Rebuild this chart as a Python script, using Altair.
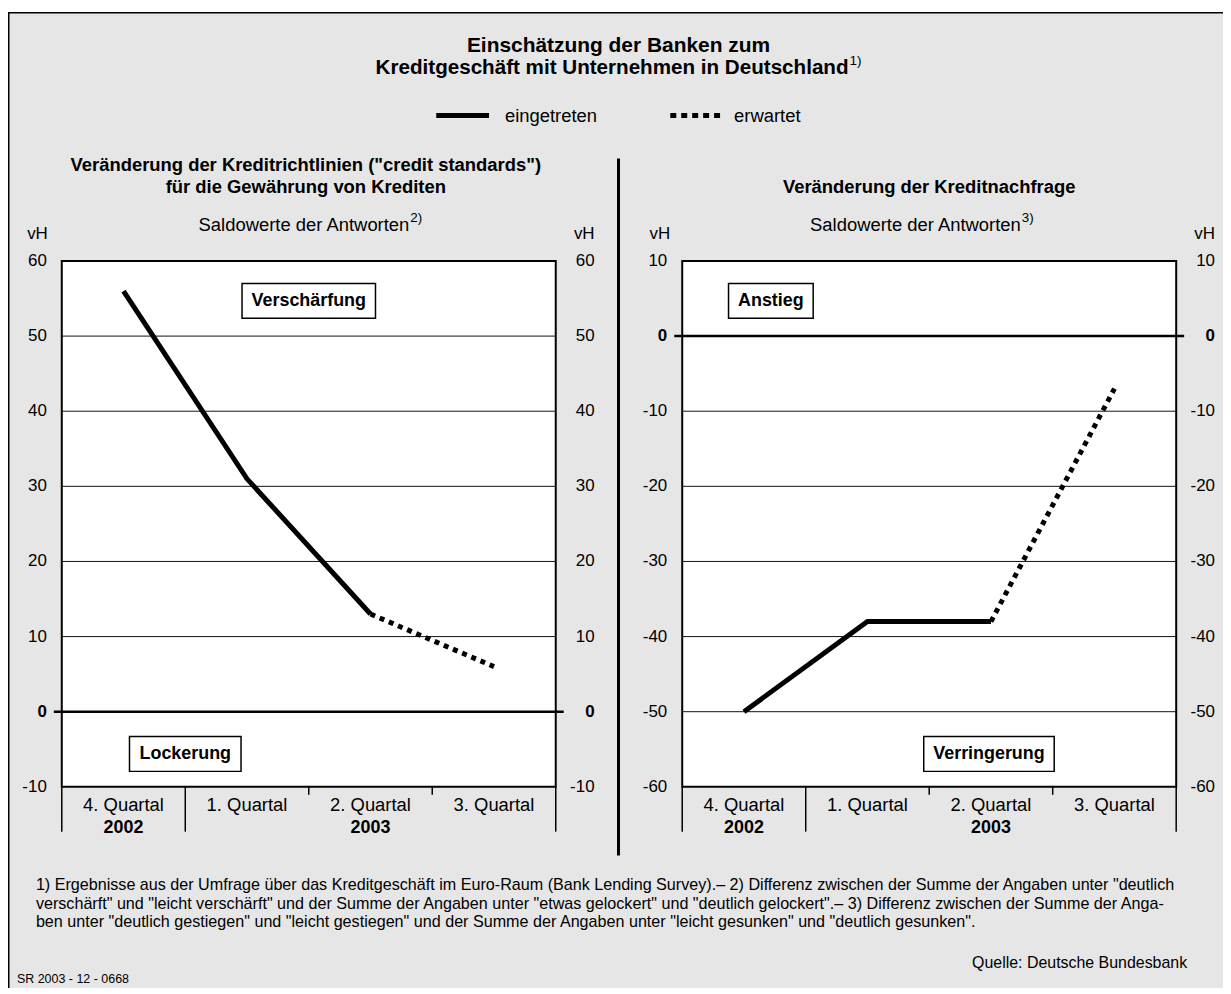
import altair as alt
import pandas as pd

# ---------------- data ----------------
quarters = ["4. Quartal", "1. Quartal", "2. Quartal", "3. Quartal"]
years = ["2002", "2003"]
year_anchor = ["4. Quartal", "2. Quartal"]

standards_actual_q = ["4. Quartal", "1. Quartal", "2. Quartal"]
standards_actual = [56, 31, 13]
standards_expected_q = ["2. Quartal", "3. Quartal"]
standards_expected = [13, 6]

demand_actual_q = ["4. Quartal", "1. Quartal", "2. Quartal"]
demand_actual = [-50, -38, -38]
demand_expected_q = ["2. Quartal", "3. Quartal"]
demand_expected = [-38, -7]

standards_ticks = [60, 50, 40, 30, 20, 10, 0, -10]
demand_ticks = [10, 0, -10, -20, -30, -40, -50, -60]

FONT = "Liberation Sans"
BG = "#e6e6e6"

one = pd.DataFrame({"a": [1]})


def P(v):
    return v - 8  # page -> chart coordinates


def txt(s, x, y, size=18, weight="normal", align="left", font=FONT, baseline="middle"):
    return alt.Chart(one).mark_text(
        text=s, align=align, baseline=baseline, fontSize=size, fontWeight=weight,
        font=font, color="black"
    ).encode(x=alt.value(P(x)), y=alt.value(P(y)))


def rule(x, x2, y, y2, w=1, dash=None, color="black"):
    kw = dict(color=color, strokeWidth=w)
    if dash:
        kw["strokeDash"] = dash
        kw["strokeCap"] = "butt"
    return alt.Chart(one).mark_rule(**kw).encode(
        x=alt.value(P(x)), x2=alt.value(P(x2)), y=alt.value(P(y)), y2=alt.value(P(y2)))


def box(label, cx, cy, w, h=35):
    r = alt.Chart(one).mark_rect(fill="white", stroke="black", strokeWidth=1.5).encode(
        x=alt.value(P(cx - w / 2)), x2=alt.value(P(cx + w / 2)),
        y=alt.value(P(cy - h / 2)), y2=alt.value(P(cy + h / 2)))
    return [r, txt(label, cx, cy, size=18, weight="bold", align="center")]


def panel(x0, x1, ymin, ymax, ticks, act_q, act, exp_q, exp):
    top, bottom = 260, 788
    xs = alt.Scale(type="point", domain=quarters, range=[P(x0), P(x1)], padding=0.5)
    ys = alt.Scale(domain=[ymin, ymax], range=[P(bottom), P(top)], zero=False, nice=False)
    bs = alt.Scale(domain=[0, 4], range=[P(x0), P(x1)], zero=False, nice=False)
    layers = []
    # plot frame
    frame = pd.DataFrame({"lo": [ymin], "hi": [ymax], "b0": [0], "b1": [4]})
    layers.append(alt.Chart(frame).mark_rect(fill="white", stroke="black", strokeWidth=2).encode(
        x=alt.X("b0:Q", scale=bs, axis=None), x2="b1:Q",
        y=alt.Y("lo:Q", scale=ys, axis=None), y2="hi:Q"))
    # gridlines
    grid = pd.DataFrame({"v": [t for t in ticks if t not in (0, ymin, ymax)], "b0": 0, "b1": 4})
    layers.append(alt.Chart(grid).mark_rule(color="#111", strokeWidth=1).encode(
        x=alt.X("b0:Q", scale=bs, axis=None), x2="b1:Q",
        y=alt.Y("v:Q", scale=ys, axis=None)))
    # zero line extending beyond the frame
    zero = pd.DataFrame({"v": [0]})
    layers.append(alt.Chart(zero).mark_rule(color="black", strokeWidth=2.5).encode(
        x=alt.value(P(x0 - 8)), x2=alt.value(P(x1 + 8)),
        y=alt.Y("v:Q", scale=ys, axis=None)))
    # tick labels
    tdf = pd.DataFrame({"v": ticks, "label": [str(t) for t in ticks]})
    for xpos in (x0 - 15, x1 + 39):
        layers.append(alt.Chart(tdf).transform_filter("datum.v != 0").mark_text(
            align="right", baseline="middle", fontSize=17, font=FONT, color="black").encode(
            x=alt.value(P(xpos)), y=alt.Y("v:Q", scale=ys, axis=None), text="label:N"))
        layers.append(alt.Chart(tdf).transform_filter("datum.v == 0").mark_text(
            align="right", baseline="middle", fontSize=17, font=FONT, fontWeight="bold",
            color="black").encode(
            x=alt.value(P(xpos)), y=alt.Y("v:Q", scale=ys, axis=None), text="label:N"))
    # category separators below the plot
    sep_long = pd.DataFrame({"b": [0, 1, 4]})
    sep_short = pd.DataFrame({"b": [2, 3]})
    layers.append(alt.Chart(sep_long).mark_rule(color="black", strokeWidth=1.5).encode(
        x=alt.X("b:Q", scale=bs, axis=None), y=alt.value(P(788)), y2=alt.value(P(833))))
    layers.append(alt.Chart(sep_short).mark_rule(color="black", strokeWidth=1.5).encode(
        x=alt.X("b:Q", scale=bs, axis=None), y=alt.value(P(788)), y2=alt.value(P(796))))
    # quarter and year labels
    qdf = pd.DataFrame({"q": quarters})
    layers.append(alt.Chart(qdf).mark_text(fontSize=18.5, font=FONT, color="black",
                                           baseline="middle", align="center").encode(
        x=alt.X("q:N", scale=xs, axis=None), y=alt.value(P(806)), text="q:N"))
    ydf = pd.DataFrame({"q": year_anchor, "y": years})
    layers.append(alt.Chart(ydf).mark_text(fontSize=18, font=FONT, fontWeight="bold",
                                           color="black", baseline="middle", align="center").encode(
        x=alt.X("q:N", scale=xs, axis=None), y=alt.value(P(829)), text="y:N"))
    # data lines
    adf = pd.DataFrame({"q": act_q, "v": act, "i": range(len(act))})
    edf = pd.DataFrame({"q": exp_q, "v": exp, "i": range(len(exp))})
    layers.append(alt.Chart(adf).mark_line(color="black", strokeWidth=5, strokeCap="butt",
                                           strokeJoin="miter").encode(
        x=alt.X("q:N", scale=xs, axis=None), y=alt.Y("v:Q", scale=ys, axis=None),
        order="i:Q"))
    layers.append(alt.Chart(edf).mark_line(color="black", strokeWidth=5, strokeCap="butt",
                                           strokeDash=[5, 5]).encode(
        x=alt.X("q:N", scale=xs, axis=None), y=alt.Y("v:Q", scale=ys, axis=None),
        order="i:Q"))
    return layers


layers = []
# outer background with border
layers.append(alt.Chart(one).mark_rect(fill=BG, stroke="black", strokeWidth=1.5).encode(
    x=alt.value(0.75), x2=alt.value(1300), y=alt.value(2.75), y2=alt.value(1100)))

# title
layers.append(txt("Einschätzung der Banken zum", 621, 44, size=21, weight="bold", align="center"))
layers.append(txt("Kreditgeschäft mit Unternehmen in Deutschland", 852, 66, size=20.7, weight="bold",
                  align="right"))
layers.append(txt("1)", 853, 59, size=13.5, align="left"))

# legend
layers.append(rule(438, 491, 114, 114, w=5))
layers.append(txt("eingetreten", 507, 114, size=18.5))
layers.append(rule(673, 723, 114, 114, w=5, dash=[6, 5]))
layers.append(txt("erwartet", 737, 114, size=18.5))

# divider
layers.append(rule(621, 621, 157, 857, w=3))

# left panel texts
layers.append(txt('Veränderung der Kreditrichtlinien ("credit standards")', 307, 164, size=18.5,
                  weight="bold", align="center"))
layers.append(txt("für die Gewährung von Krediten", 307, 186, size=18.5, weight="bold", align="center"))
layers.append(txt("Saldowerte der Antworten", 411, 224, size=18.5, align="right"))
layers.append(txt("2)", 412, 217, size=13.5))
layers.append(txt("vH", 48, 233, size=17, align="right"))
layers.append(txt("vH", 597, 233, size=17, align="right"))

# right panel texts
layers.append(txt("Veränderung der Kreditnachfrage", 933, 186, size=18.5, weight="bold", align="center"))
layers.append(txt("Saldowerte der Antworten", 1025, 224, size=18.5, align="right"))
layers.append(txt("3)", 1026, 217, size=13.5))
layers.append(txt("vH", 673, 233, size=17, align="right"))
layers.append(txt("vH", 1220, 233, size=17, align="right"))

layers += panel(62, 558, -10, 60, standards_ticks, standards_actual_q, standards_actual,
                standards_expected_q, standards_expected)
layers += panel(685, 1181, -60, 10, demand_ticks, demand_actual_q, demand_actual,
                demand_expected_q, demand_expected)

# annotation boxes
layers += box("Verschärfung", 310, 300, 134)
layers += box("Lockerung", 186, 755, 112)
layers += box("Anstieg", 774, 300, 85)
layers += box("Verringerung", 993, 755, 131)

# footnotes
foot = [
    '1) Ergebnisse aus der Umfrage über das Kreditgeschäft im Euro-Raum (Bank Lending Survey).– 2) Differenz zwischen der Summe der Angaben unter "deutlich',
    'verschärft" und "leicht verschärft" und der Summe der Angaben unter "etwas gelockert" und "deutlich gelockert".– 3) Differenz zwischen der Summe der Anga-',
    'ben unter "deutlich gestiegen" und "leicht gestiegen" und der Summe der Angaben unter "leicht gesunken" und "deutlich gesunken".',
]
for i, line in enumerate(foot):
    layers.append(txt(line, 36, 887 + i * 18.5, size=16.2))
layers.append(txt("Quelle: Deutsche Bundesbank", 1192, 965, size=16, align="right"))
layers.append(txt("SR 2003 - 12 - 0668", 17, 981, size=12.5))

chart = alt.layer(*layers).resolve_scale(x="independent", y="independent").properties(
    width=1220, height=980, autosize="none", padding=0, background="white"
).configure_view(strokeWidth=0)

chart.save("out.html", embed_options={"renderer": "svg", "actions": False})
